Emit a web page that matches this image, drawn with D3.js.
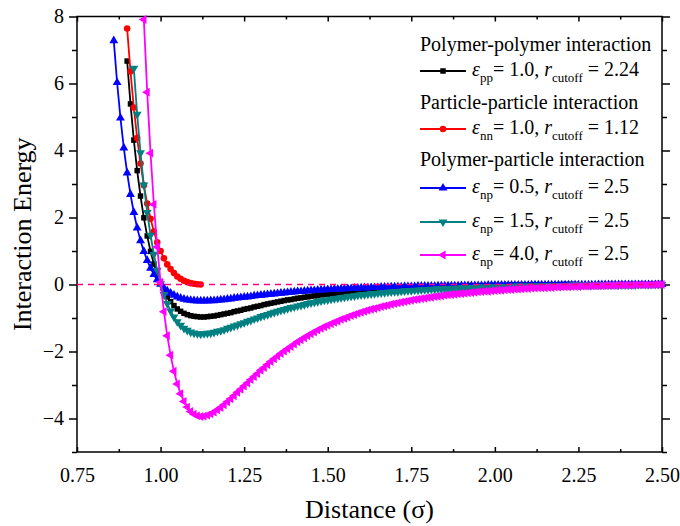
<!DOCTYPE html>
<html>
<head>
<meta charset="utf-8">
<script src="https://cdn.jsdelivr.net/npm/d3@7"></script>
<style>
  html, body { margin: 0; padding: 0; background: #fff; }
  svg { display: block; }
  svg text { font-family: "Liberation Serif", "Times New Roman", serif; fill: #000; }
</style>
</head>
<body>
<svg id="chart" width="680" height="526"></svg>
<script>
// all curves are sampled every 0.01 sigma from their first distance
const DIST_STEP = 0.01;

// polymer-polymer, eps 1.0, cutoff 2.24
const ppStart = 0.90;
const ppEnergy = [
  6.67, 5.39, 4.31, 3.40, 2.64, 1.99, 1.45, 0.99, 0.61, 0.29,
  0.03, -0.19, -0.37, -0.51, -0.63, -0.73, -0.80, -0.86, -0.90, -0.93,
  -0.95, -0.96, -0.97, -0.97, -0.96, -0.95, -0.94, -0.92, -0.90, -0.88,
  -0.86, -0.84, -0.81, -0.79, -0.77, -0.74, -0.72, -0.70, -0.67, -0.65,
  -0.63, -0.60, -0.58, -0.56, -0.54, -0.52, -0.50, -0.48, -0.46, -0.45,
  -0.43, -0.41, -0.40, -0.38, -0.37, -0.35, -0.34, -0.33, -0.31, -0.30,
  -0.29, -0.28, -0.27, -0.26, -0.25, -0.24, -0.23, -0.22, -0.21, -0.20,
  -0.19, -0.19, -0.18, -0.17, -0.16, -0.16, -0.15, -0.15, -0.14, -0.13,
  -0.13, -0.12, -0.12, -0.11, -0.11, -0.10, -0.10, -0.10, -0.09, -0.09,
  -0.08, -0.08, -0.08, -0.07, -0.07, -0.07, -0.06, -0.06, -0.06, -0.06,
  -0.05, -0.05, -0.05, -0.05, -0.04, -0.04, -0.04, -0.04, -0.04, -0.03,
  -0.03, -0.03, -0.03, -0.03, -0.02, -0.02, -0.02, -0.02, -0.02, -0.02,
  -0.02, -0.01, -0.01, -0.01, -0.01, -0.01, -0.01, -0.01, -0.01, -0.01,
  0.00, 0.00, 0.00, 0.00, 0.00
];

// particle-particle, eps 1.0, cutoff 1.12
const nnStart = 0.90;
const nnEnergy = [
  7.64, 6.36, 5.28, 4.37, 3.61, 2.96, 2.42, 1.96, 1.58, 1.26,
  1.00, 0.78, 0.60, 0.46, 0.34, 0.24, 0.17, 0.11, 0.07, 0.04,
  0.02, 0.01, 0.00
];

// polymer-particle, eps 0.5
const np05Start = 0.86;
const np05Energy = [
  7.28, 6.03, 4.97, 4.08,
  3.33, 2.69, 2.15, 1.69, 1.31, 0.99, 0.72, 0.49, 0.30, 0.14,
  0.01, -0.10, -0.19, -0.26, -0.32, -0.37, -0.41, -0.44, -0.46, -0.47,
  -0.48, -0.49, -0.49, -0.49, -0.49, -0.48, -0.48, -0.47, -0.46, -0.45,
  -0.44, -0.43, -0.41, -0.40, -0.39, -0.38, -0.37, -0.36, -0.34, -0.33,
  -0.32, -0.31, -0.30, -0.29, -0.28, -0.27, -0.26, -0.25, -0.24, -0.23,
  -0.22, -0.21, -0.21, -0.20, -0.19, -0.18, -0.18, -0.17, -0.16, -0.16,
  -0.15, -0.15, -0.14, -0.14, -0.13, -0.13, -0.12, -0.12, -0.11, -0.11,
  -0.10, -0.10, -0.10, -0.09, -0.09, -0.09, -0.08, -0.08, -0.08, -0.07,
  -0.07, -0.07, -0.07, -0.06, -0.06, -0.06, -0.06, -0.05, -0.05, -0.05,
  -0.05, -0.05, -0.05, -0.04, -0.04, -0.04, -0.04, -0.04, -0.04, -0.04,
  -0.03, -0.03, -0.03, -0.03, -0.03, -0.03, -0.03, -0.03, -0.02, -0.02,
  -0.02, -0.02, -0.02, -0.02, -0.02, -0.02, -0.02, -0.02, -0.02, -0.02,
  -0.02, -0.01, -0.01, -0.01, -0.01, -0.01, -0.01, -0.01, -0.01, -0.01,
  -0.01, -0.01, -0.01, -0.01, -0.01, -0.01, -0.01, -0.01, -0.01, -0.01,
  -0.01, 0.00, 0.00, 0.00, 0.00, 0.00, 0.00, 0.00, 0.00, 0.00,
  0.00, 0.00, 0.00, 0.00, 0.00, 0.00, 0.00, 0.00, 0.00, 0.00,
  0.00
];

// polymer-particle, eps 1.5
const np15Start = 0.92;
const np15Energy = [
  6.45, 5.08, 3.93, 2.97, 2.15, 1.47, 0.90, 0.42,
  0.02, -0.30, -0.57, -0.79, -0.97, -1.11, -1.22, -1.31, -1.37, -1.42,
  -1.45, -1.47, -1.48, -1.47, -1.46, -1.45, -1.43, -1.40, -1.38, -1.35,
  -1.31, -1.28, -1.24, -1.21, -1.17, -1.14, -1.10, -1.07, -1.03, -1.00,
  -0.96, -0.93, -0.90, -0.86, -0.83, -0.80, -0.77, -0.75, -0.72, -0.69,
  -0.67, -0.64, -0.62, -0.60, -0.57, -0.55, -0.53, -0.51, -0.49, -0.47,
  -0.46, -0.44, -0.42, -0.41, -0.39, -0.38, -0.36, -0.35, -0.34, -0.32,
  -0.31, -0.30, -0.29, -0.28, -0.27, -0.26, -0.25, -0.24, -0.23, -0.22,
  -0.21, -0.21, -0.20, -0.19, -0.18, -0.18, -0.17, -0.17, -0.16, -0.15,
  -0.15, -0.14, -0.14, -0.13, -0.13, -0.12, -0.12, -0.11, -0.11, -0.11,
  -0.10, -0.10, -0.09, -0.09, -0.09, -0.08, -0.08, -0.08, -0.07, -0.07,
  -0.07, -0.07, -0.06, -0.06, -0.06, -0.06, -0.05, -0.05, -0.05, -0.05,
  -0.05, -0.04, -0.04, -0.04, -0.04, -0.04, -0.03, -0.03, -0.03, -0.03,
  -0.03, -0.03, -0.03, -0.02, -0.02, -0.02, -0.02, -0.02, -0.02, -0.02,
  -0.02, -0.02, -0.01, -0.01, -0.01, -0.01, -0.01, -0.01, -0.01, -0.01,
  -0.01, -0.01, -0.01, 0.00, 0.00, 0.00, 0.00, 0.00, 0.00, 0.00,
  0.00
];

// polymer-particle, eps 4.0
const np40Start = 0.95;
const np40Energy = [
  7.91, 5.74, 3.92, 2.39, 1.12,
  0.07, -0.81, -1.53, -2.11, -2.59, -2.97, -3.26, -3.49, -3.66, -3.79,
  -3.87, -3.92, -3.94, -3.93, -3.90, -3.86, -3.81, -3.74, -3.67, -3.59,
  -3.50, -3.41, -3.32, -3.22, -3.13, -3.03, -2.94, -2.84, -2.75, -2.66,
  -2.56, -2.48, -2.39, -2.30, -2.22, -2.14, -2.06, -1.99, -1.92, -1.85,
  -1.78, -1.71, -1.65, -1.59, -1.53, -1.47, -1.42, -1.36, -1.31, -1.26,
  -1.22, -1.17, -1.13, -1.09, -1.04, -1.01, -0.97, -0.93, -0.90, -0.86,
  -0.83, -0.80, -0.77, -0.74, -0.72, -0.69, -0.66, -0.64, -0.62, -0.59,
  -0.57, -0.55, -0.53, -0.51, -0.49, -0.47, -0.45, -0.44, -0.42, -0.41,
  -0.39, -0.38, -0.36, -0.35, -0.34, -0.32, -0.31, -0.30, -0.29, -0.28,
  -0.27, -0.26, -0.25, -0.24, -0.23, -0.22, -0.21, -0.20, -0.20, -0.19,
  -0.18, -0.17, -0.17, -0.16, -0.15, -0.15, -0.14, -0.14, -0.13, -0.12,
  -0.12, -0.11, -0.11, -0.10, -0.10, -0.10, -0.09, -0.09, -0.08, -0.08,
  -0.07, -0.07, -0.07, -0.06, -0.06, -0.06, -0.05, -0.05, -0.05, -0.04,
  -0.04, -0.04, -0.04, -0.03, -0.03, -0.03, -0.03, -0.02, -0.02, -0.02,
  -0.02, -0.02, -0.01, -0.01, -0.01, -0.01, -0.01, -0.01, 0.00, 0.00,
  0.00
];

const xTicks = [0.75, 1.00, 1.25, 1.50, 1.75, 2.00, 2.25, 2.50];
const yTicks = [-4, -2, 0, 2, 4, 6, 8];
const legendHeaders = ['Polymer-polymer interaction', 'Particle-particle interaction', 'Polymer-particle interaction'];

// series drawn in this order (later ones on top)
const series = [
  { start: ppStart,   values: ppEnergy,   color: '#000000', symbol: 'square', sub: 'pp', eps: '1.0', cut: '2.24' },
  { start: nnStart,   values: nnEnergy,   color: '#ff0000', symbol: 'circle', sub: 'nn', eps: '1.0', cut: '1.12' },
  { start: np05Start, values: np05Energy, color: '#0000ff', symbol: 'up',     sub: 'np', eps: '0.5', cut: '2.5' },
  { start: np15Start, values: np15Energy, color: '#008080', symbol: 'down',   sub: 'np', eps: '1.5', cut: '2.5' },
  { start: np40Start, values: np40Energy, color: '#ff00ff', symbol: 'left',   sub: 'np', eps: '4.0', cut: '2.5' },
];

// — layout ————————————————————————————————————————————————
const PLOT = { left: 77, right: 662, top: 16.5, bottom: 452 };
const SERIF = '"Liberation Serif", "Times New Roman", serif';

const svg = d3.select('#chart');
const x = d3.scaleLinear().domain([0.75, 2.5]).range([PLOT.left, PLOT.right]);
const y = d3.scaleLinear().domain([-5, 8]).range([PLOT.bottom, PLOT.top]);

const minorX = [0.875, 1.125, 1.375, 1.625, 1.875, 2.125, 2.375];
const minorY = [-5, -3, -1, 1, 3, 5, 7];

// — axes ————————————————————————————————————————————————
function styleAxis(g) {
  g.attr('font-family', SERIF);
  g.select('.domain').remove();
  g.selectAll('.tick line').attr('stroke', '#000').attr('stroke-width', 1.5);
  g.selectAll('.tick text').attr('fill', '#000').attr('font-size', 20);
}

// left: outward ticks with labels
svg.append('g')
  .attr('transform', `translate(${PLOT.left},0)`)
  .call(d3.axisLeft(y).tickValues(yTicks).tickSize(8).tickPadding(5).tickFormat(d3.format('d')))
  .call(styleAxis);
svg.append('g')
  .attr('transform', `translate(${PLOT.left},0)`)
  .call(d3.axisLeft(y).tickValues(minorY).tickSize(5).tickFormat(''))
  .call(styleAxis);

// right: outward ticks, no labels
svg.append('g')
  .attr('transform', `translate(${PLOT.right},0)`)
  .call(d3.axisRight(y).tickValues(yTicks).tickSize(8).tickFormat(''))
  .call(styleAxis);
svg.append('g')
  .attr('transform', `translate(${PLOT.right},0)`)
  .call(d3.axisRight(y).tickValues(minorY).tickSize(5).tickFormat(''))
  .call(styleAxis);

// bottom: inward ticks with labels
svg.append('g')
  .attr('transform', `translate(0,${PLOT.bottom})`)
  .call(d3.axisBottom(x).tickValues(xTicks).tickSize(-5).tickPadding(16).tickFormat(d3.format('.2f')))
  .call(styleAxis);
svg.append('g')
  .attr('transform', `translate(0,${PLOT.bottom})`)
  .call(d3.axisBottom(x).tickValues(minorX).tickSize(-3).tickFormat(''))
  .call(styleAxis);

// top: inward ticks
svg.append('g')
  .attr('transform', `translate(0,${PLOT.top})`)
  .call(d3.axisTop(x).tickValues(xTicks).tickSize(-5).tickFormat(''))
  .call(styleAxis);
svg.append('g')
  .attr('transform', `translate(0,${PLOT.top})`)
  .call(d3.axisTop(x).tickValues(minorX).tickSize(-3).tickFormat(''))
  .call(styleAxis);

// frame
svg.append('rect')
  .attr('x', PLOT.left).attr('y', PLOT.top)
  .attr('width', PLOT.right - PLOT.left).attr('height', PLOT.bottom - PLOT.top)
  .attr('fill', 'none').attr('stroke', '#000').attr('stroke-width', 1.5);

// axis titles
svg.append('text')
  .attr('transform', `translate(31,${(PLOT.top + PLOT.bottom) / 2}) rotate(-90)`)
  .attr('text-anchor', 'middle').attr('font-size', 26)
  .text('Interaction Energy');

svg.append('text')
  .attr('x', (PLOT.left + PLOT.right) / 2).attr('y', 518)
  .attr('text-anchor', 'middle').attr('font-size', 26)
  .text('Distance (σ)');

// — series ————————————————————————————————————————————————
const SYMBOLS = {
  square: { type: d3.symbolSquare,   size: 30, rotate: 0 },
  circle: { type: d3.symbolCircle,   size: 34, rotate: 0 },
  up:     { type: d3.symbolTriangle, size: 34, rotate: 0 },
  down:   { type: d3.symbolTriangle, size: 34, rotate: 180 },
  left:   { type: d3.symbolTriangle, size: 34, rotate: -90 },
};

function points(s) {
  return s.values.map((v, i) => [s.start + i * DIST_STEP, v]);
}

const line = d3.line().x(d => x(d[0])).y(d => y(d[1]));

const plot = svg.append('g');
series.forEach(s => {
  const pts = points(s);
  const sym = SYMBOLS[s.symbol];
  const g = plot.append('g');
  g.append('path')
    .datum(pts)
    .attr('d', line)
    .attr('fill', 'none')
    .attr('stroke', s.color)
    .attr('stroke-width', 1.8);
  g.selectAll('path.mark')
    .data(pts)
    .join('path')
    .attr('class', 'mark')
    .attr('d', d3.symbol().type(sym.type).size(sym.size))
    .attr('transform', d => `translate(${x(d[0])},${y(d[1])}) rotate(${sym.rotate})`)
    .attr('fill', s.color);
});

// zero reference line
svg.append('line')
  .attr('x1', PLOT.left).attr('x2', PLOT.right)
  .attr('y1', y(0)).attr('y2', y(0))
  .attr('stroke', '#ff0080').attr('stroke-width', 1.5)
  .attr('stroke-dasharray', '6,5');

// — legend ————————————————————————————————————————————————
const LEG_X = 420;
const headerBaselines = [51, 109, 166];
const itemBaselines = [76, 134, 193, 227, 260];

const legend = svg.append('g').attr('font-size', 20).attr('font-family', SERIF);

legendHeaders.forEach((t, i) => {
  legend.append('text').attr('x', LEG_X).attr('y', headerBaselines[i]).text(t);
});

series.forEach((s, i) => {
  const by = itemBaselines[i];
  const ly = by - 5;
  const sym = SYMBOLS[s.symbol];
  legend.append('line')
    .attr('x1', LEG_X).attr('x2', LEG_X + 46)
    .attr('y1', ly).attr('y2', ly)
    .attr('stroke', s.color).attr('stroke-width', 1.8);
  legend.append('path')
    .attr('d', d3.symbol().type(sym.type).size(sym.size)())
    .attr('transform', `translate(${LEG_X + 23},${ly}) rotate(${sym.rotate})`)
    .attr('fill', s.color);

  const t = legend.append('text').attr('x', LEG_X + 52).attr('y', by);
  t.append('tspan').attr('font-style', 'italic').text('ε');
  t.append('tspan').attr('font-size', 13).attr('dy', 6).text(s.sub);
  t.append('tspan').attr('dy', -6).text(`= ${s.eps}, `);
  t.append('tspan').attr('font-style', 'italic').text('r');
  t.append('tspan').attr('font-size', 13).attr('dy', 6).text('cutoff');
  t.append('tspan').attr('dy', -6).text(` = ${s.cut}`);
});
</script>
</body>
</html>
